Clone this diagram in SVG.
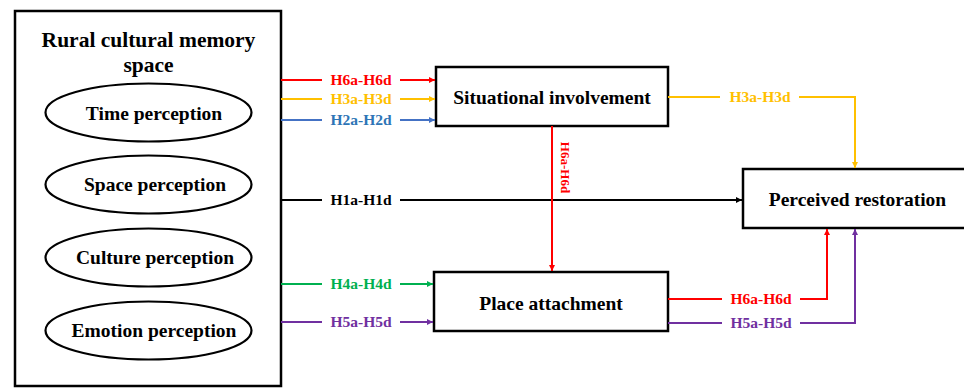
<svg xmlns="http://www.w3.org/2000/svg" width="964" height="388" viewBox="0 0 964 388">
  <style>
    text { font-family: "Liberation Serif", "Times New Roman", serif; font-weight: bold; }
    .box { fill: #ffffff; stroke: #000000; stroke-width: 2.5; }
    .ell { fill: #ffffff; stroke: #000000; stroke-width: 2.2; }
    .node-label { font-size: 19.5px; fill: #000000; text-anchor: middle; }
    .title { font-size: 21.5px; fill: #000000; text-anchor: middle; }
    .hyp { font-size: 15.5px; text-anchor: middle; }
    .line { fill: none; stroke-width: 2; }
    .red { stroke: #ff0000; }
    .yellow { stroke: #ffc000; }
    .blue { stroke: #4472c4; }
    .green { stroke: #00b050; }
    .purple { stroke: #7030a0; }
    .black { stroke: #000000; }
  </style>
  <defs>
    <marker id="ah-red" viewBox="0 0 10 10" refX="10" refY="5" markerWidth="6" markerHeight="6" orient="auto" markerUnits="userSpaceOnUse"><path d="M0,0 L10,5 L0,10 z" fill="#ff0000"/></marker>
    <marker id="ah-yellow" viewBox="0 0 10 10" refX="10" refY="5" markerWidth="6" markerHeight="6" orient="auto" markerUnits="userSpaceOnUse"><path d="M0,0 L10,5 L0,10 z" fill="#ffc000"/></marker>
    <marker id="ah-blue" viewBox="0 0 10 10" refX="10" refY="5" markerWidth="6" markerHeight="6" orient="auto" markerUnits="userSpaceOnUse"><path d="M0,0 L10,5 L0,10 z" fill="#4472c4"/></marker>
    <marker id="ah-green" viewBox="0 0 10 10" refX="10" refY="5" markerWidth="6" markerHeight="6" orient="auto" markerUnits="userSpaceOnUse"><path d="M0,0 L10,5 L0,10 z" fill="#00b050"/></marker>
    <marker id="ah-purple" viewBox="0 0 10 10" refX="10" refY="5" markerWidth="6" markerHeight="6" orient="auto" markerUnits="userSpaceOnUse"><path d="M0,0 L10,5 L0,10 z" fill="#7030a0"/></marker>
    <marker id="ah-black" viewBox="0 0 10 10" refX="10" refY="5" markerWidth="6" markerHeight="6" orient="auto" markerUnits="userSpaceOnUse"><path d="M0,0 L10,5 L0,10 z" fill="#000000"/></marker>
  </defs>

  <rect width="964" height="388" fill="#ffffff"/>

  <!-- Outer construct with its four dimensions -->
  <g id="rural-cultural-memory-space">
    <rect class="box" x="15" y="11" width="266" height="375"/>
    <text class="title" x="148.5" y="47">Rural cultural memory</text>
    <text class="title" x="148.5" y="72">space</text>
  </g>
  <g id="time-perception">
    <ellipse class="ell" cx="148.5" cy="112.5" rx="103" ry="29"/>
    <text class="node-label" x="154" y="120">Time perception</text>
  </g>
  <g id="space-perception">
    <ellipse class="ell" cx="148.5" cy="184.5" rx="103" ry="29"/>
    <text class="node-label" x="155" y="191">Space perception</text>
  </g>
  <g id="culture-perception">
    <ellipse class="ell" cx="148.5" cy="257.5" rx="103" ry="29"/>
    <text class="node-label" x="155" y="264">Culture perception</text>
  </g>
  <g id="emotion-perception">
    <ellipse class="ell" cx="148.5" cy="330.5" rx="103" ry="29"/>
    <text class="node-label" x="154" y="337">Emotion perception</text>
  </g>

  <!-- Mediators and outcome -->
  <g id="situational-involvement">
    <rect class="box" x="436" y="67" width="232" height="59"/>
    <text class="node-label" x="552" y="104">Situational involvement</text>
  </g>
  <g id="place-attachment">
    <rect class="box" x="434" y="272" width="234" height="59"/>
    <text class="node-label" x="551" y="310">Place attachment</text>
  </g>
  <g id="perceived-restoration">
    <rect class="box" x="743" y="169" width="235" height="59"/>
    <text class="node-label" x="857.5" y="206">Perceived restoration</text>
  </g>

  <!-- Hypothesis paths -->
  <g id="connectors">
    <!-- into Situational involvement -->
    <line class="line red" x1="281" y1="80" x2="322" y2="80"/>
    <line class="line red" x1="400" y1="80" x2="435" y2="80" marker-end="url(#ah-red)"/>
    <text class="hyp" x="361" y="85" fill="#ff0000">H6a-H6d</text>

    <line class="line yellow" x1="281" y1="99" x2="322" y2="99"/>
    <line class="line yellow" x1="400" y1="99" x2="435" y2="99" marker-end="url(#ah-yellow)"/>
    <text class="hyp" x="361" y="104" fill="#ffc000">H3a-H3d</text>

    <line class="line blue" x1="281" y1="120" x2="322" y2="120"/>
    <line class="line blue" x1="400" y1="120" x2="435" y2="120" marker-end="url(#ah-blue)"/>
    <text class="hyp" x="361" y="125" fill="#2e75b6">H2a-H2d</text>

    <!-- direct effect -->
    <line class="line black" x1="281" y1="200" x2="322" y2="200"/>
    <line class="line black" x1="400" y1="200" x2="742" y2="200" marker-end="url(#ah-black)"/>
    <text class="hyp" x="361" y="205" fill="#000000">H1a-H1d</text>

    <!-- into Place attachment -->
    <line class="line green" x1="281" y1="284" x2="322" y2="284"/>
    <line class="line green" x1="400" y1="284" x2="433" y2="284" marker-end="url(#ah-green)"/>
    <text class="hyp" x="361" y="289" fill="#00b050">H4a-H4d</text>

    <line class="line purple" x1="281" y1="322" x2="322" y2="322"/>
    <line class="line purple" x1="400" y1="322" x2="433" y2="322" marker-end="url(#ah-purple)"/>
    <text class="hyp" x="361" y="327" fill="#7030a0">H5a-H5d</text>

    <!-- Situational involvement to Place attachment -->
    <line class="line red" x1="552" y1="126" x2="552" y2="271" marker-end="url(#ah-red)"/>
    <text class="hyp" transform="translate(561,167.5) rotate(90)" style="font-size:13px" fill="#ff0000">H6a-H6d</text>

    <!-- Situational involvement to Perceived restoration -->
    <line class="line yellow" x1="668" y1="97" x2="720" y2="97"/>
    <polyline class="line yellow" points="799,97 855,97 855,168" marker-end="url(#ah-yellow)"/>
    <text class="hyp" x="760" y="102" fill="#ffc000">H3a-H3d</text>

    <!-- Place attachment to Perceived restoration -->
    <line class="line red" x1="668" y1="299" x2="722" y2="299"/>
    <polyline class="line red" points="800,299 827,299 827,229" marker-end="url(#ah-red)"/>
    <text class="hyp" x="761" y="304" fill="#ff0000">H6a-H6d</text>

    <line class="line purple" x1="668" y1="323" x2="722" y2="323"/>
    <polyline class="line purple" points="800,323 855,323 855,229" marker-end="url(#ah-purple)"/>
    <text class="hyp" x="761" y="328" fill="#7030a0">H5a-H5d</text>
  </g>
</svg>
